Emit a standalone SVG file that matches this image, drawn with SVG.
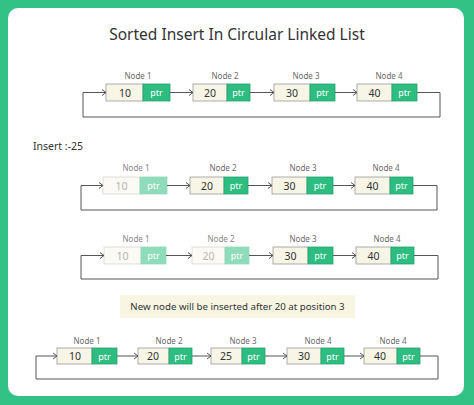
<svg xmlns="http://www.w3.org/2000/svg" width="474" height="405" viewBox="0 0 474 405">
<defs>
<marker id="ah" markerWidth="8" markerHeight="8" refX="6" refY="4" orient="auto" markerUnits="userSpaceOnUse">
<path d="M2,1 L6,4 L2,7" fill="none" stroke="#555" stroke-width="1"/>
</marker>
<style>
text{font-family:"Noto Sans","Open Sans","Liberation Sans",sans-serif}
.title{font-size:15.5px;fill:#333;text-anchor:middle}
.lbl{font-size:8px;fill:#6a6a6a;text-anchor:middle}
.d{fill:#f7f5e6;stroke:#9a9a9a;stroke-width:0.8}
.p{fill:#2ebd80;stroke:#27a56f;stroke-width:0.8}
.dt{font-size:10.5px;fill:#333;text-anchor:middle}
.pt{font-size:9px;fill:#ffffff;text-anchor:middle}
.fd .d{fill:#fbfaf4;stroke:#d6d6d0}
.fd .p{fill:#8fdcbb;stroke:#8fdcbb}
.fd .dt{fill:#b5b5b0}
.fd .lbl{fill:#888}
.c{fill:none;stroke:#555;stroke-width:1}
.txt{font-size:10.5px;fill:#333}
.note{font-size:9.7px;fill:#333;text-anchor:middle}
</style>
</defs>
<rect x="0" y="0" width="474" height="405" fill="#33c286"/>
<rect x="8" y="8" width="456" height="388" rx="10" fill="#ffffff"/>
<text class="title" x="237" y="40">Sorted Insert In Circular Linked List</text>

<!-- Row 1 -->
<g id="r1n1"><text class="lbl" x="138" y="79">Node 1</text><rect class="d" x="106" y="84" width="37" height="17"/><rect class="p" x="143" y="84" width="27" height="17"/><text class="dt" x="125" y="96.5">10</text><text class="pt" x="156.5" y="96">ptr</text></g>
<g id="r1n2"><text class="lbl" x="225" y="79">Node 2</text><rect class="d" x="193" y="84" width="34" height="17"/><rect class="p" x="227" y="84" width="23" height="17"/><text class="dt" x="210" y="96.5">20</text><text class="pt" x="238.5" y="96">ptr</text></g>
<g id="r1n3"><text class="lbl" x="306" y="79">Node 3</text><rect class="d" x="274" y="84" width="36" height="17"/><rect class="p" x="310" y="84" width="25" height="17"/><text class="dt" x="292" y="96.5">30</text><text class="pt" x="322.5" y="96">ptr</text></g>
<g id="r1n4"><text class="lbl" x="389" y="79">Node 4</text><rect class="d" x="357" y="84" width="35" height="17"/><rect class="p" x="392" y="84" width="25" height="17"/><text class="dt" x="374.5" y="96.5">40</text><text class="pt" x="404.5" y="96">ptr</text></g>

<text class="txt" x="33" y="150">Insert :-25</text>

<!-- Row 2 -->
<g id="r2n1" class="fd"><text class="lbl" x="136" y="171">Node 1</text><rect class="d" x="103" y="177" width="37" height="17"/><rect class="p" x="140" y="177" width="27" height="17"/><text class="dt" x="121.5" y="189.5">10</text><text class="pt" x="153.5" y="189">ptr</text></g>
<g id="r2n2"><text class="lbl" x="223" y="171">Node 2</text><rect class="d" x="190" y="177" width="34" height="17"/><rect class="p" x="224" y="177" width="24" height="17"/><text class="dt" x="207" y="189.5">20</text><text class="pt" x="236" y="189">ptr</text></g>
<g id="r2n3"><text class="lbl" x="303" y="171">Node 3</text><rect class="d" x="272" y="177" width="35" height="17"/><rect class="p" x="307" y="177" width="26" height="17"/><text class="dt" x="289.5" y="189.5">30</text><text class="pt" x="320" y="189">ptr</text></g>
<g id="r2n4"><text class="lbl" x="386" y="171">Node 4</text><rect class="d" x="355" y="177" width="35" height="17"/><rect class="p" x="390" y="177" width="23" height="17"/><text class="dt" x="372.5" y="189.5">40</text><text class="pt" x="401.5" y="189">ptr</text></g>

<!-- Row 3 -->
<g id="r3n1" class="fd"><text class="lbl" x="136" y="242">Node 1</text><rect class="d" x="104" y="247" width="37" height="17"/><rect class="p" x="141" y="247" width="25" height="17"/><text class="dt" x="122.5" y="259.5">10</text><text class="pt" x="153.5" y="259">ptr</text></g>
<g id="r3n2" class="fd"><text class="lbl" x="221" y="242">Node 2</text><rect class="d" x="192" y="247" width="33" height="17"/><rect class="p" x="225" y="247" width="24" height="17"/><text class="dt" x="208.5" y="259.5">20</text><text class="pt" x="237" y="259">ptr</text></g>
<g id="r3n3"><text class="lbl" x="303" y="242">Node 3</text><rect class="d" x="273" y="247" width="35" height="17"/><rect class="p" x="308" y="247" width="25" height="17"/><text class="dt" x="290.5" y="259.5">30</text><text class="pt" x="320.5" y="259">ptr</text></g>
<g id="r3n4"><text class="lbl" x="387" y="242">Node 4</text><rect class="d" x="356" y="247" width="35" height="17"/><rect class="p" x="391" y="247" width="23" height="17"/><text class="dt" x="373.5" y="259.5">40</text><text class="pt" x="402.5" y="259">ptr</text></g>

<g id="note"><rect x="120" y="295" width="235" height="23" fill="#f8f6e2"/><text class="note" x="237.5" y="310">New node will be inserted after 20 at position 3</text></g>

<!-- Row 4 -->
<g id="r4n1"><text class="lbl" x="87" y="344">Node 1</text><rect class="d" x="57" y="348" width="35" height="16"/><rect class="p" x="92" y="348" width="25" height="16"/><text class="dt" x="75" y="360">10</text><text class="pt" x="104.5" y="359.5">ptr</text></g>
<g id="r4n2"><text class="lbl" x="169" y="344">Node 2</text><rect class="d" x="138" y="348" width="31" height="16"/><rect class="p" x="169" y="348" width="23" height="16"/><text class="dt" x="153" y="360">20</text><text class="pt" x="180.5" y="359.5">ptr</text></g>
<g id="r4n3"><text class="lbl" x="243" y="344">Node 3</text><rect class="d" x="211" y="348" width="31" height="16"/><rect class="p" x="242" y="348" width="23" height="16"/><text class="dt" x="226" y="360">25</text><text class="pt" x="253.5" y="359.5">ptr</text></g>
<g id="r4n4"><text class="lbl" x="318" y="344">Node 4</text><rect class="d" x="287" y="348" width="34" height="16"/><rect class="p" x="321" y="348" width="23" height="16"/><text class="dt" x="304" y="360">30</text><text class="pt" x="332.5" y="359.5">ptr</text></g>
<g id="r4n5"><text class="lbl" x="393" y="344">Node 4</text><rect class="d" x="364" y="348" width="33" height="16"/><rect class="p" x="397" y="348" width="23" height="16"/><text class="dt" x="380" y="360">40</text><text class="pt" x="408.5" y="359.5">ptr</text></g>

<g id="connectors">
<path class="c" d="M170,92.5 H193" marker-end="url(#ah)"/>
<path class="c" d="M250,92.5 H274" marker-end="url(#ah)"/>
<path class="c" d="M335,92.5 H357" marker-end="url(#ah)"/>
<path class="c" d="M417,92.5 H440 V117 H83 V92.5 H106" marker-end="url(#ah)"/>

<path class="c" d="M167,185.5 H190" marker-end="url(#ah)"/>
<path class="c" d="M248,185.5 H272" marker-end="url(#ah)"/>
<path class="c" d="M333,185.5 H355" marker-end="url(#ah)"/>
<path class="c" d="M413,185.5 H437 V210 H81 V185.5 H103" marker-end="url(#ah)"/>

<path class="c" d="M166,255.5 H192" marker-end="url(#ah)"/>
<path class="c" d="M249,255.5 H273" marker-end="url(#ah)"/>
<path class="c" d="M333,255.5 H356" marker-end="url(#ah)"/>
<path class="c" d="M414,255.5 H438 V279 H81 V255.5 H104" marker-end="url(#ah)"/>

<path class="c" d="M117,356 H138" marker-end="url(#ah)"/>
<path class="c" d="M192,356 H211" marker-end="url(#ah)"/>
<path class="c" d="M265,356 H287" marker-end="url(#ah)"/>
<path class="c" d="M344,356 H364" marker-end="url(#ah)"/>
<path class="c" d="M420,356 H438 V379 H36 V356 H57" marker-end="url(#ah)"/>
</g>
</svg>
